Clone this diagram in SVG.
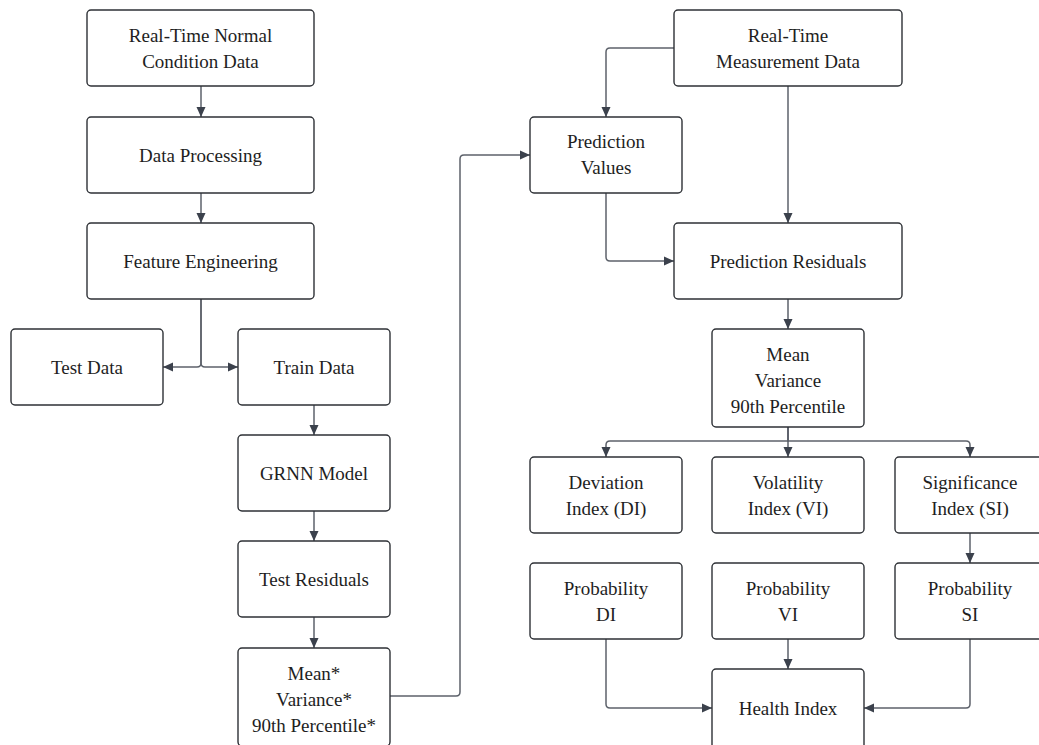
<svg xmlns="http://www.w3.org/2000/svg" width="1039" height="745" viewBox="0 0 1039 745">
  <style>
    .box { fill: #ffffff; stroke: #2e3136; stroke-width: 1.4; }
    .lbl { font-family: "Liberation Serif", "Times New Roman", serif; font-size: 19px; fill: #1e1e1e; text-anchor: middle; }
    .edge { fill: none; stroke: #5d626b; stroke-width: 1.5; marker-end: url(#arrow); }
  </style>
  <defs>
    <marker id="arrow" viewBox="0 0 10 10" refX="10" refY="5" markerWidth="10" markerHeight="10" markerUnits="userSpaceOnUse" orient="auto">
      <path d="M0,0.5 L10,5 L0,9.5 Z" fill="#3b414c"/>
    </marker>
  </defs>
  <rect width="1039" height="745" fill="#ffffff"/>

  <!-- connectors -->
  <g id="connectors">
    <path class="edge" d="M201,86 V117"/>
    <path class="edge" d="M201,193 V223"/>
    <path class="edge" d="M201,299 V363 Q201,367 197,367 H163"/>
    <path class="edge" d="M201,299 V363 Q201,367 205,367 H238"/>
    <path class="edge" d="M314,405 V435"/>
    <path class="edge" d="M314,511 V541"/>
    <path class="edge" d="M314,617 V648"/>
    <path class="edge" d="M390,696 H456 Q460,696 460,692 V159 Q460,155 464,155 H530"/>
    <path class="edge" d="M674,48 H610 Q606,48 606,52 V117"/>
    <path class="edge" d="M788,86 V223"/>
    <path class="edge" d="M606,193 V257 Q606,261 610,261 H674"/>
    <path class="edge" d="M788,299 V329"/>
    <path class="edge" d="M788,427 V441 H610 Q606,441 606,445 V457"/>
    <path class="edge" d="M788,427 V457"/>
    <path class="edge" d="M788,427 V441 H966 Q970,441 970,445 V457"/>
    <path class="edge" d="M970,533 V563"/>
    <path class="edge" d="M606,639 V704 Q606,708 610,708 H712"/>
    <path class="edge" d="M788,639 V669"/>
    <path class="edge" d="M970,639 V704 Q970,708 966,708 H864"/>
  </g>

  <!-- training branch -->
  <g id="rt-normal">
    <rect class="box" x="87" y="10" width="227" height="76" rx="4"/>
    <text class="lbl" x="200.5" y="42">Real-Time Normal</text>
    <text class="lbl" x="200.5" y="68">Condition Data</text>
  </g>
  <g id="data-processing">
    <rect class="box" x="87" y="117" width="227" height="76" rx="4"/>
    <text class="lbl" x="200.5" y="162">Data Processing</text>
  </g>
  <g id="feature-engineering">
    <rect class="box" x="87" y="223" width="227" height="76" rx="4"/>
    <text class="lbl" x="200.5" y="268">Feature Engineering</text>
  </g>
  <g id="test-data">
    <rect class="box" x="11" y="329" width="152" height="76" rx="4"/>
    <text class="lbl" x="87" y="374">Test Data</text>
  </g>
  <g id="train-data">
    <rect class="box" x="238" y="329" width="152" height="76" rx="4"/>
    <text class="lbl" x="314" y="374">Train Data</text>
  </g>
  <g id="grnn-model">
    <rect class="box" x="238" y="435" width="152" height="76" rx="4"/>
    <text class="lbl" x="314" y="480">GRNN Model</text>
  </g>
  <g id="test-residuals">
    <rect class="box" x="238" y="541" width="152" height="76" rx="4"/>
    <text class="lbl" x="314" y="586">Test Residuals</text>
  </g>
  <g id="baseline-stats">
    <rect class="box" x="238" y="648" width="152" height="98" rx="4"/>
    <text class="lbl" x="314" y="680">Mean*</text>
    <text class="lbl" x="314" y="706">Variance*</text>
    <text class="lbl" x="314" y="732">90th Percentile*</text>
  </g>

  <!-- monitoring branch -->
  <g id="rt-measurement">
    <rect class="box" x="674" y="10" width="228" height="76" rx="4"/>
    <text class="lbl" x="788" y="42">Real-Time</text>
    <text class="lbl" x="788" y="68">Measurement Data</text>
  </g>
  <g id="prediction-values">
    <rect class="box" x="530" y="117" width="152" height="76" rx="4"/>
    <text class="lbl" x="606" y="148">Prediction</text>
    <text class="lbl" x="606" y="174">Values</text>
  </g>
  <g id="prediction-residuals">
    <rect class="box" x="674" y="223" width="228" height="76" rx="4"/>
    <text class="lbl" x="788" y="268">Prediction Residuals</text>
  </g>
  <g id="residual-stats">
    <rect class="box" x="712" y="329" width="152" height="98" rx="4"/>
    <text class="lbl" x="788" y="361">Mean</text>
    <text class="lbl" x="788" y="387">Variance</text>
    <text class="lbl" x="788" y="413">90th Percentile</text>
  </g>
  <g id="deviation-index">
    <rect class="box" x="530" y="457" width="152" height="76" rx="4"/>
    <text class="lbl" x="606" y="489">Deviation</text>
    <text class="lbl" x="606" y="515">Index (DI)</text>
  </g>
  <g id="volatility-index">
    <rect class="box" x="712" y="457" width="152" height="76" rx="4"/>
    <text class="lbl" x="788" y="489">Volatility</text>
    <text class="lbl" x="788" y="515">Index (VI)</text>
  </g>
  <g id="significance-index">
    <rect class="box" x="895" y="457" width="152" height="76" rx="4"/>
    <text class="lbl" x="970" y="489">Significance</text>
    <text class="lbl" x="970" y="515">Index (SI)</text>
  </g>
  <g id="prob-di">
    <rect class="box" x="530" y="563" width="152" height="76" rx="4"/>
    <text class="lbl" x="606" y="595">Probability</text>
    <text class="lbl" x="606" y="621">DI</text>
  </g>
  <g id="prob-vi">
    <rect class="box" x="712" y="563" width="152" height="76" rx="4"/>
    <text class="lbl" x="788" y="595">Probability</text>
    <text class="lbl" x="788" y="621">VI</text>
  </g>
  <g id="prob-si">
    <rect class="box" x="895" y="563" width="152" height="76" rx="4"/>
    <text class="lbl" x="970" y="595">Probability</text>
    <text class="lbl" x="970" y="621">SI</text>
  </g>
  <g id="health-index">
    <rect class="box" x="712" y="669" width="152" height="90" rx="4"/>
    <text class="lbl" x="788" y="715">Health Index</text>
  </g>
</svg>
